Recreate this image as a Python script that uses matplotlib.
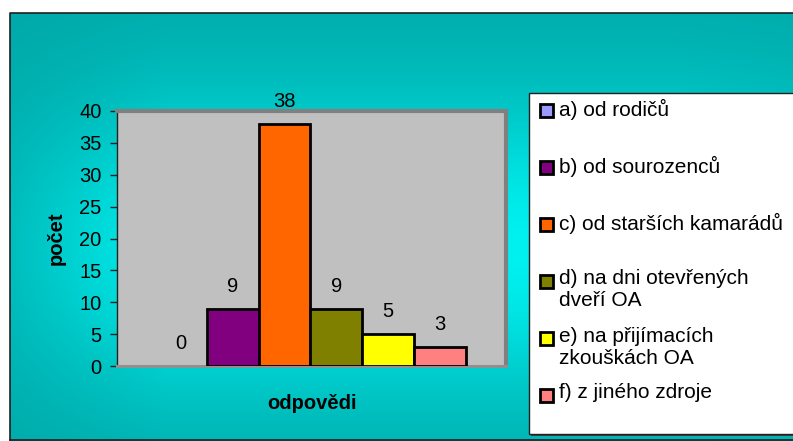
import numpy as np
import matplotlib
matplotlib.use("Agg")
import matplotlib.pyplot as plt
from matplotlib.patches import Rectangle

plt.rcParams['font.family'] = ['Liberation Sans', 'DejaVu Sans']

labels = ["a) od rodičů", "b) od sourozenců", "c) od starších kamarádů",
          "d) na dni otevřených\ndveří OA", "e) na přijímacích\nzkouškách OA",
          "f) z jiného zdroje"]
values = [0, 9, 38, 9, 5, 3]
colors = ["#9999FF", "#800080", "#FF6600", "#808000", "#FFFF00", "#FF8080"]
y_ticks = [0, 5, 10, 15, 20, 25, 30, 35, 40]

FS = 14.5
W, H = 793, 441
fig = plt.figure(figsize=(W / 100, H / 100), dpi=100, facecolor="white")

# background in pixel coordinates
bg = fig.add_axes([0, 0, 1, 1], zorder=0)
bg.set_xlim(0, W)
bg.set_ylim(H, 0)
bg.axis("off")

yy = np.linspace(0, 1, 200)[:, None]
xx = np.linspace(0, 1, 300)[None, :]
fv = np.exp(-((yy - 0.55) / 0.36) ** 2)
fh = np.clip(0.3 + xx * 3.5, 0, 1) * np.clip(1.0 - (xx - 0.85) * 1.5, 0.75, 1)
g = (168 + 72 * fv * fh) / 255.0
img = np.dstack([np.zeros_like(g), g, g])
bg.imshow(img, extent=(10, W, H, 13), aspect="auto", interpolation="bilinear")
bg.plot([10, 10, W], [H - 1, 13, 13], color="#202020", lw=1.2)
bg.plot([10, W], [H - 1.5, H - 1.5], color="#202020", lw=1.2)

# legend box
bg.add_patch(Rectangle((531, 95), 270, 341, facecolor="#404040", edgecolor="none"))
bg.add_patch(Rectangle((529, 93), 270, 341, facecolor="white", edgecolor="#202020", lw=1))
for i, (lab, col) in enumerate(zip(labels, colors)):
    cy = 110 + 57 * i
    bg.add_patch(Rectangle((540, cy - 6.5), 13, 13, facecolor=col, edgecolor="black", lw=2))
    bg.text(559, cy - 11.5, lab, fontsize=15, va="top", ha="left")

# plot area
ax = fig.add_axes([117 / W, 1 - 366 / H, (506 - 117) / W, (366 - 111) / H], zorder=1)
ax.set_facecolor("#C0C0C0")
x = np.arange(len(values))
edges = ["black" if v > 0 else "none" for v in values]
ax.bar(x, values, width=1.0, color=colors, edgecolor=edges, linewidth=2, zorder=3)
for xi, v in zip(x, values):
    ax.annotate(str(v), (xi, v), xytext=(0, 12), textcoords="offset points",
                ha="center", va="baseline", fontsize=FS)

ax.set_xlim(-1.23, 6.27)
ax.set_ylim(0, 40)
ax.set_yticks(y_ticks)
ax.set_xticks([])
ax.tick_params(axis="y", labelsize=FS, length=5, width=1, color="#202020", pad=6)
ax.spines["left"].set_color("#202020")
ax.spines["left"].set_linewidth(1)
ax.spines["bottom"].set_color("#909090")
ax.spines["bottom"].set_linewidth(2.2)
for s in ["top", "right"]:
    ax.spines[s].set_color("#808080")
    ax.spines[s].set_linewidth(3)

ax.set_ylabel("počet", fontsize=FS, fontweight="bold", labelpad=10)
ax.set_xlabel("odpovědi", fontsize=FS, fontweight="bold", labelpad=20)

fig.savefig("out.png", dpi=100)
